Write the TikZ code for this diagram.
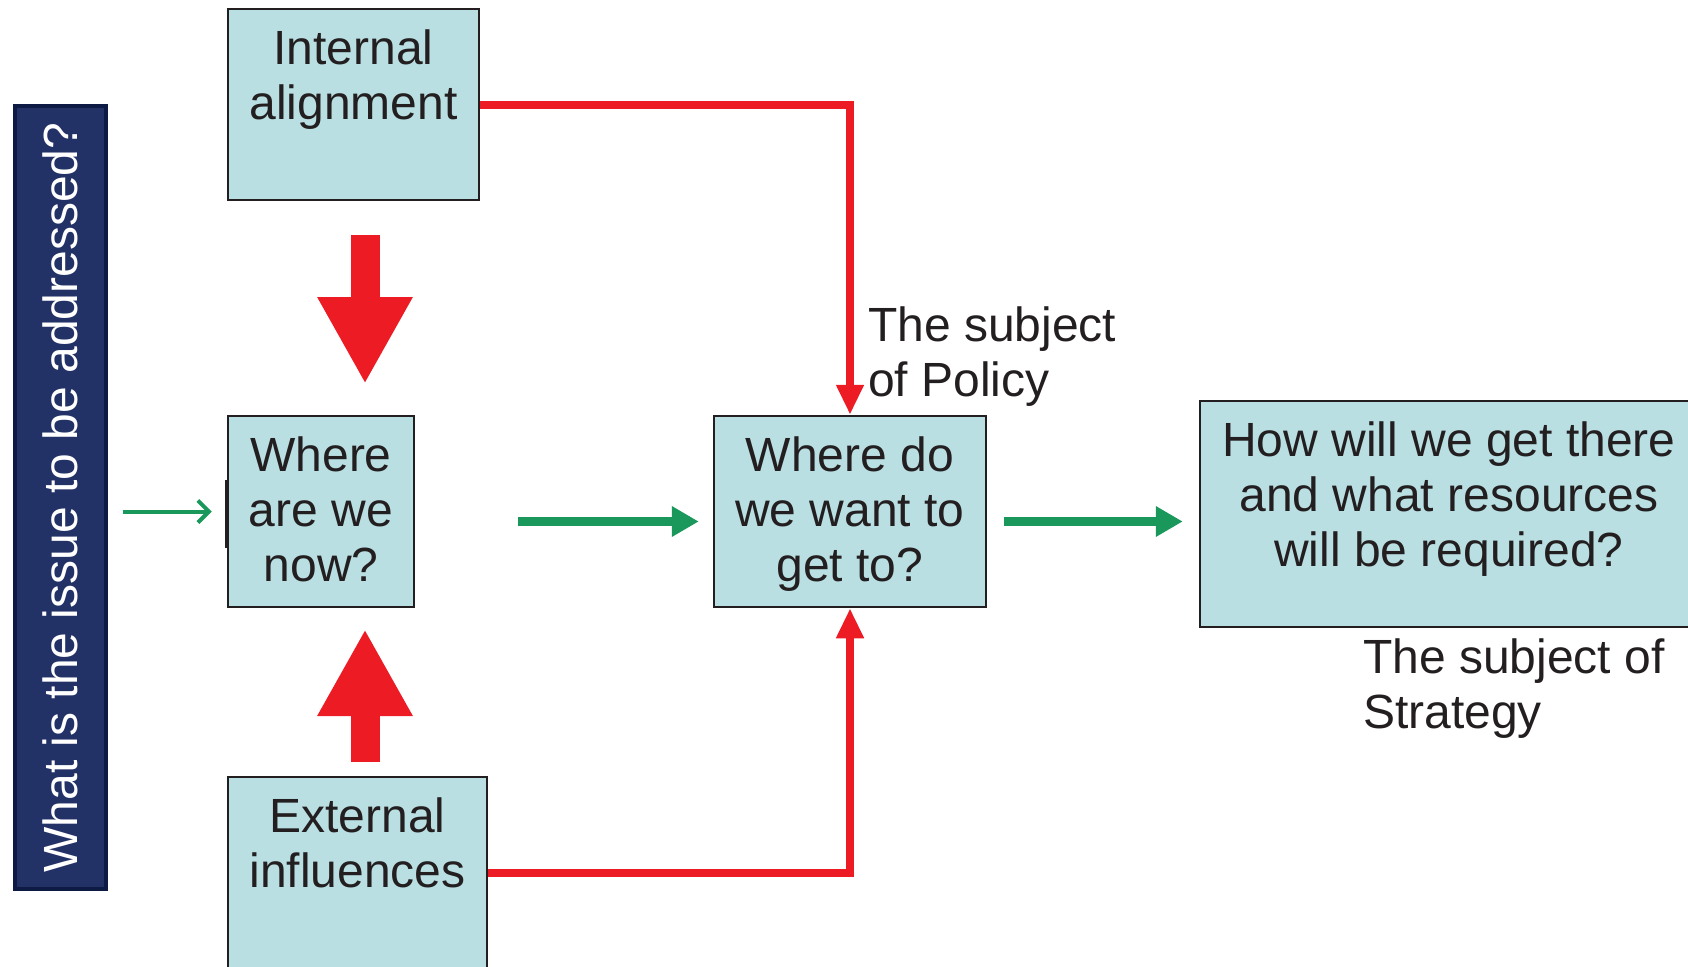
\documentclass[tikz,border=0pt]{standalone}
\usepackage{fontspec}
\setmainfont{Liberation Sans}
\usetikzlibrary{arrows.meta}
\definecolor{boxfill}{RGB}{185,223,227}
\definecolor{boxline}{RGB}{35,31,32}
\definecolor{flowred}{RGB}{237,28,36}
\definecolor{flowgreen}{RGB}{26,152,92}
\definecolor{barnavy}{RGB}{35,50,102}
\definecolor{barline}{RGB}{12,26,68}

\begin{document}
\begin{tikzpicture}[x=1pt,y=-1pt,
	box/.style={draw=boxline,line width=2.5pt,fill=boxfill,inner sep=0pt,align=center,text=boxline,
		font=\fontsize{48}{55}\selectfont},
	qbox/.style={draw=barline,line width=3.5pt,fill=barnavy,inner sep=0pt,text=white,
		font=\fontsize{48}{55}\selectfont},
	note/.style={inner sep=0pt,align=left,text=boxline,font=\fontsize{48}{55}\selectfont},
	redline/.style={draw=flowred,line width=8pt,-{Triangle[width=26pt,length=30pt]}},
	bigarrow/.style={draw=flowred,line width=29pt,-{Triangle[width=89pt,length=87pt]}},
	greenarrow/.style={draw=flowgreen,line width=9pt,-{Triangle[width=29pt,length=27pt]}},
	thinarrow/.style={draw=flowgreen,line width=4pt,-{Straight Barb[width=22pt,length=11pt]}}]
				\useasboundingbox (0,0) rectangle (1688,966);
				\clip (0,0) rectangle (1688,966);
				\node[qbox,rotate=90,minimum width=783pt,minimum height=91pt] (qbar) at (60.5,497.5) {What is the issue to be addressed?};
				\node[box,minimum width=251pt,text height=110pt,text depth=81pt] (intbox) at (353.5,104.5) {Internal\\alignment};
				\node[box,minimum width=186pt,text height=165pt,text depth=26pt] (nowbox) at (321,511.5) {Where\\are we\\now?};
				\node[box,minimum width=272pt,text height=165pt,text depth=26pt] (wantbox) at (850,511.5) {Where do\\we want to\\get to?};
				\node[box,minimum width=498pt,text height=165pt,text depth=61pt] (howbox) at (1449,514) {How will we get there\\and what resources\\will be required?};
				\node[box,minimum width=259pt,text height=110pt,text depth=81pt] (extbox) at (357.5,872.5) {External\\influences};
				\coordinate (dntop) at (365,235);
				\coordinate (dntip) at (365,384);
				\coordinate (uptop) at (365,762);
				\coordinate (uptip) at (365,629);
				\draw[bigarrow] (dntop) -- (dntip);
				\draw[bigarrow] (uptop) -- (uptip);
				\draw[redline] (intbox.east) -| (wantbox.north);
				\draw[redline] (extbox.east) -| (wantbox.south);
				\draw[thinarrow,shorten <=15pt,shorten >=15pt] (qbar.south |- nowbox.west) -- (nowbox.west);
				\draw[boxline,line width=4pt] ([yshift=32pt]nowbox.west) -- ([yshift=-36pt]nowbox.west);
				\draw[greenarrow,shorten <=103pt,shorten >=14pt] ([yshift=-10pt]nowbox.east) -- ([yshift=-10pt]wantbox.west);
				\draw[greenarrow,shorten <=17pt,shorten >=16pt] ([yshift=-10pt]wantbox.east) -- ([yshift=-7.5pt]howbox.west);
				\node[note,anchor=base west] (policy) at (868,396) {The subject\\of Policy};
				\node[note,anchor=base west] (strategy) at (1363,728) {The subject of\\Strategy};
			\end{tikzpicture}
\end{document}
